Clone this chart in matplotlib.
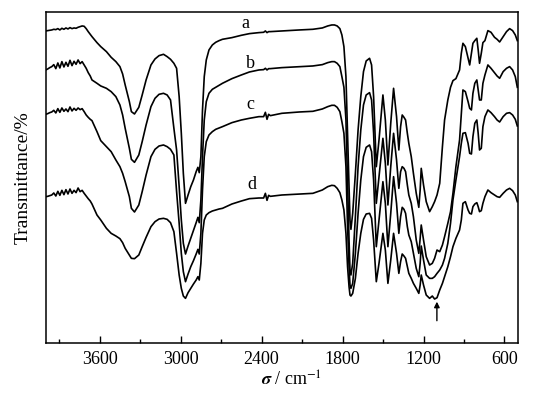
import numpy as np
import matplotlib.pyplot as plt

plt.rcParams['font.family'] = ['Liberation Serif', 'DejaVu Serif']
plt.rcParams['mathtext.fontset'] = 'stix'

# wavenumbers (cm-1), shared by the four spectra
wn = [4000, 3985, 3970, 3955, 3940, 3925, 3910, 3895, 3880, 3865, 3850, 3835,
      3820, 3805, 3790, 3775, 3760, 3745, 3730, 3715, 3700, 3685, 3670,
      3657, 3620, 3592, 3550, 3515, 3480, 3450, 3430, 3411, 3380, 3365, 3342,
      3310, 3285, 3256, 3220, 3190, 3160, 3127, 3100, 3075, 3050,
      3030, 3011, 2995, 2980, 2964, 2945, 2925, 2905, 2885, 2872, 2862, 2850,
      2838, 2825, 2810, 2790, 2765, 2740, 2715, 2690,
      2620, 2550, 2490, 2420, 2385, 2372, 2360, 2348, 2335, 2250, 2120, 2020,
      1950, 1910, 1880, 1860, 1840, 1820,
      1805, 1790, 1775, 1763, 1752, 1745, 1738,
      1725, 1705, 1685, 1665, 1645, 1625, 1600, 1585, 1570, 1550, 1530, 1501,
      1483, 1464, 1443, 1422, 1400, 1383, 1370, 1358, 1345, 1333, 1320, 1309,
      1291, 1275, 1254, 1235, 1225, 1217, 1200, 1180, 1155, 1135, 1118, 1100,
      1080, 1060, 1044, 1020, 1000, 982, 960, 933, 920, 908, 890, 870, 858,
      845, 834, 820, 805, 795, 785, 772, 760, 745, 723, 700, 674, 655, 636,
      610, 585, 562, 540, 520, 505]

# curve rows (frame top = 37, frame bottom = 1028)
ya = [93, 92, 91, 90, 88, 89, 86, 90, 85, 88, 84, 87,
      83, 86, 84, 85, 82, 80, 78, 79, 86, 95, 103,
      110, 128, 140, 155, 172, 185, 200, 222, 255, 305, 335, 342,
      322, 285, 240, 195, 177, 167, 163, 170, 178, 190,
      205, 290, 400, 520, 610, 585, 560, 540, 515, 502, 518, 470,
      330, 230, 180, 150, 135, 127, 122, 118,
      113, 106, 101, 98, 97, 93, 98, 95, 95, 93, 90, 88,
      84, 78, 75, 75, 78, 86,
      105, 140, 230, 400, 560, 660, 688,
      640, 520, 390, 290, 215, 183, 175, 195, 290, 500, 420, 285,
      360, 495, 370, 265, 350, 450, 380, 345, 352, 360, 400, 430,
      470, 520, 580, 622, 570, 505, 555, 605, 635, 620, 605, 585,
      550, 440, 360, 300, 262, 242, 236, 210, 160, 130, 140, 175, 195,
      160, 130, 122, 115, 150, 190, 160, 128, 122, 92, 97, 112, 118, 126,
      110, 95, 86, 92, 105, 122]

yb = [210, 207, 203, 200, 194, 206, 189, 204, 185, 201, 187, 199,
      181, 197, 184, 193, 180, 191, 185, 195, 205, 218, 228,
      240, 250, 258, 265, 275, 290, 315, 345, 385, 445, 478, 487,
      465, 425, 375, 320, 295, 283, 280, 285, 300, 385,
      450, 560, 660, 730, 762, 738, 715, 692, 668, 652, 668, 600,
      470, 360, 305, 280, 268, 262, 256, 250,
      236, 225, 216, 210, 209, 205, 210, 206, 206, 203, 200, 198,
      194, 188, 185, 185, 190, 200,
      230, 262, 360, 550, 720, 810, 825,
      790, 650, 500, 390, 315, 285, 278, 300, 400, 610, 530, 415,
      490, 615, 500, 400, 480, 565, 515, 500, 505, 515, 555, 585,
      610, 650, 720, 760, 715, 675, 720, 770, 795, 790, 775, 750,
      755, 735, 710, 670, 635, 580, 500, 420, 340, 270, 275, 305, 325,
      330, 280, 250, 240, 270, 300, 300, 250, 225, 195, 205, 218, 228, 235,
      215, 205, 200, 210, 230, 262]

yc = [343, 341, 338, 336, 331, 339, 326, 337, 324, 334, 327, 335,
      321, 333, 325, 331, 324, 329, 326, 335, 345, 352, 358,
      362, 395, 422, 440, 455, 480, 500, 520, 545, 590, 625, 636,
      615, 575, 525, 470, 448, 438, 435, 440, 448, 465,
      575, 670, 760, 815, 845, 822, 800, 782, 762, 748, 762, 700,
      570, 470, 425, 405, 395, 388, 384, 380,
      368, 360, 355, 350, 350, 337, 358, 343, 347, 340, 336, 334,
      327, 320, 316, 316, 322, 335,
      365, 400, 500, 680, 800, 855, 865,
      850, 760, 640, 540, 470, 442, 435, 455, 540, 740, 660, 545,
      610, 740, 640, 530, 610, 700, 650, 622, 628, 640, 680, 705,
      725, 760, 805, 830, 790, 738, 780, 825, 835, 835, 830, 820,
      810, 795, 775, 730, 670, 600, 540, 470, 430, 400, 398, 430, 460,
      462, 410, 370, 360, 400, 450, 445, 380, 350, 330, 338, 350, 360, 366,
      350, 340, 338, 345, 358, 378]

yd = [590, 589, 587, 585, 579, 588, 574, 586, 571, 584, 569, 582,
      567, 580, 571, 578, 564, 575, 571, 580, 588, 596, 603,
      612, 645, 660, 685, 700, 708, 716, 728, 745, 765, 775, 776,
      765, 740, 712, 680, 665, 657, 655, 658, 668, 695,
      760, 825, 865, 888, 895, 878, 865, 852, 840, 830, 840, 790,
      700, 660, 645, 638, 633, 630, 627, 625,
      612, 603, 596, 594, 594, 580, 601, 586, 589, 585, 582, 580,
      570, 560, 556, 557, 565, 578,
      600, 630, 700, 800, 860, 885, 888,
      880, 835, 760, 700, 658, 642, 640, 655, 720, 845, 790, 700,
      750, 850, 780, 700, 760, 820, 785, 762, 768, 775, 800, 820,
      835, 850, 865, 880, 855, 825, 855, 885, 895, 888, 897, 893,
      870, 850, 830, 800, 770, 740, 715, 690, 660, 610, 605, 630, 640,
      642, 620, 612, 608, 620, 635, 632, 610, 590, 570, 578, 585, 590, 592,
      580, 570, 565, 572, 585, 605]

names = ['a', 'b', 'c', 'd']
name_wn = [2519, 2485, 2480, 2475]
name_y = [72, 190, 313, 553]


def to_t(v):
    # picture rows -> percent of frame height
    return (1028 - np.array(v, dtype=float)) / 9.91


fig = plt.figure(figsize=(5.46, 3.95), dpi=100)
ax = fig.add_axes([0.0837, 0.1324, 0.865, 0.8365])

for y in (ya, yb, yc, yd):
    ax.plot(wn, to_t(y), color='black', lw=1.2)

for n, x, y in zip(names, name_wn, name_y):
    ax.text(x, to_t(y), n, fontsize=13, ha='center', va='center')

ax.annotate('', xy=(1101, to_t(905)), xytext=(1101, to_t(962)),
            arrowprops=dict(arrowstyle='-|>', color='black', lw=1,
                            mutation_scale=8, shrinkA=0, shrinkB=0))

ax.set_xlim(4000, 500)
ax.set_ylim(0, 100)
ax.set_xticks([3600, 3000, 2400, 1800, 1200, 600])
ax.set_xticks([3900, 3300, 2700, 2100, 1500, 900], minor=True)
ax.set_yticks([])
ax.tick_params(axis='x', which='major', direction='in', length=5, width=1,
               labelsize=13, pad=6, top=False)
ax.tick_params(axis='x', which='minor', direction='in', length=3, width=1, top=False)
for s in ax.spines.values():
    s.set_linewidth(1.1)

ax.set_xlabel(r'$\mathbfit{\sigma}$ / cm$^{-1}$', fontsize=13)
ax.xaxis.set_label_coords(0.52, -0.085)
ax.set_ylabel('Transmittance/%', fontsize=14, labelpad=10)

plt.savefig('out.png', dpi=100)
